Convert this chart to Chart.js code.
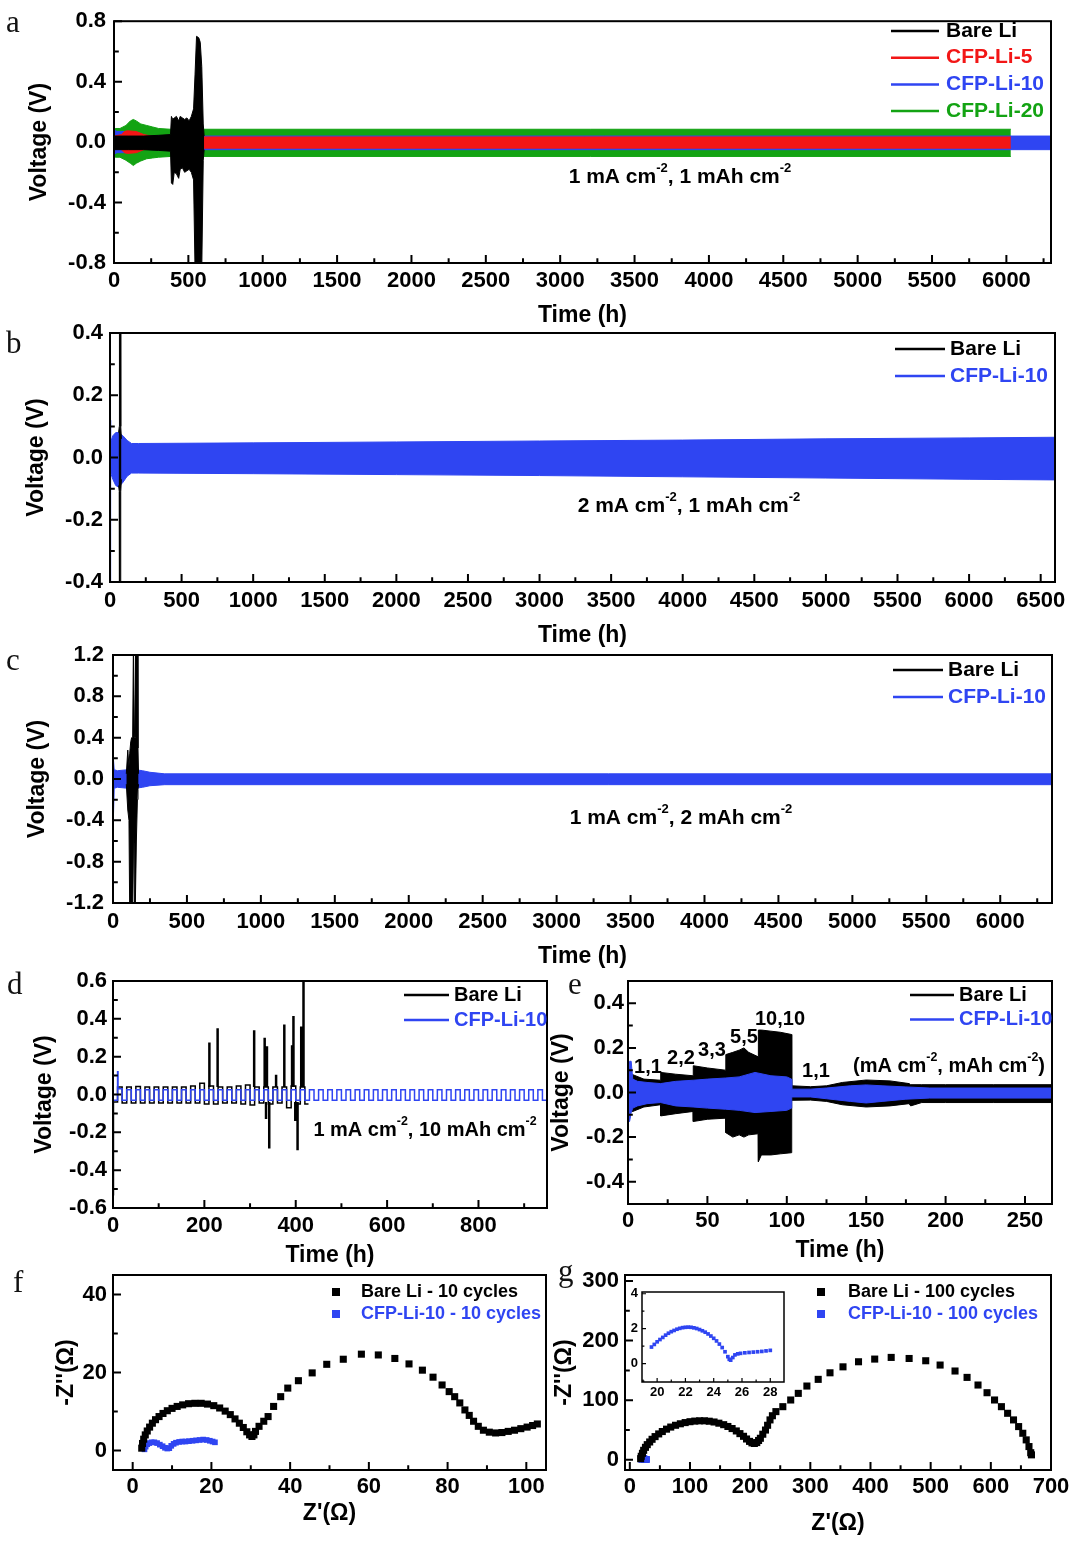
<!DOCTYPE html>
<html>
<head>
<meta charset="utf-8">
<script src="https://cdn.jsdelivr.net/npm/chart.js@4.4.1/dist/chart.umd.min.js"></script>
<style>
  body { margin: 0; background: #fff; }
  #fig { position: relative; width: 1080px; height: 1541px; background: #fff; overflow: hidden; }
  #fig canvas { position: absolute; }
  .lbl { position: absolute; font-family: "Liberation Serif", "DejaVu Serif", serif; font-size: 31px; line-height: 1; color: #111; }
</style>
</head>
<body>
<div id="fig">
  <canvas id="chartA" width="1080" height="330" style="left:0;top:0"></canvas>
  <canvas id="chartB" width="1080" height="340" style="left:0;top:310px"></canvas>
  <canvas id="chartC" width="1080" height="341" style="left:0;top:630px"></canvas>
  <canvas id="chartD" width="560" height="310" style="left:0;top:960px"></canvas>
  <canvas id="chartE" width="540" height="305" style="left:540px;top:960px"></canvas>
  <canvas id="chartF" width="560" height="273" style="left:0;top:1255px"></canvas>
  <canvas id="chartG" width="540" height="283" style="left:540px;top:1255px"></canvas>
  <canvas id="chartGi" width="185" height="125" style="left:615px;top:1280px"></canvas>
  <div class="lbl" style="left:6px;top:6px">a</div>
  <div class="lbl" style="left:6px;top:327px">b</div>
  <div class="lbl" style="left:6px;top:644px">c</div>
  <div class="lbl" style="left:7px;top:968px">d</div>
  <div class="lbl" style="left:568px;top:968px">e</div>
  <div class="lbl" style="left:13px;top:1266px">f</div>
  <div class="lbl" style="left:558px;top:1255px">g</div>
</div>
<script>
// ---- panel a : 1 mA cm-2, 1 mAh cm-2 (envelopes of the voltage bands) ----
var aBlackT  = [0, 100, 200, 300, 380, 386, 395, 405, 420, 435, 445, 460, 475, 490, 505, 520, 535, 545, 555, 570, 580, 590, 600, 606];
var aBlackHi = [0.04, 0.04, 0.04, 0.045, 0.05, 0.17, 0.15, 0.16, 0.17, 0.14, 0.17, 0.16, 0.15, 0.16, 0.14, 0.17, 0.22, 0.45, 0.70, 0.69, 0.66, 0.5, 0.12, 0.04];
var aBlackLo = [-0.05, -0.05, -0.05, -0.055, -0.06, -0.27, -0.28, -0.2, -0.21, -0.24, -0.18, -0.17, -0.2, -0.19, -0.18, -0.2, -0.25, -0.85, -0.85, -0.85, -0.85, -0.85, -0.12, -0.05];
var aRedT  = [0, 50, 70, 90, 150, 200, 250, 300, 6030];
var aRedHi = [0.04, 0.05, 0.07, 0.075, 0.07, 0.05, 0.04, 0.034, 0.034];
var aRedLo = [-0.04, -0.05, -0.07, -0.075, -0.07, -0.05, -0.045, -0.04, -0.04];
var aBlueT  = [0, 2, 4, 20, 40, 80, 110, 150, 300, 6300];
var aBlueHi = [0.22, 0.22, 0.08, 0.07, 0.07, 0.07, 0.05, 0.04, 0.04, 0.04];
var aBlueLo = [-0.70, -0.70, -0.08, -0.07, -0.07, -0.07, -0.05, -0.048, -0.05, -0.05];
var aGreenT  = [0, 10, 40, 80, 110, 130, 150, 180, 220, 260, 300, 380, 6030];
var aGreenHi = [0.10, 0.09, 0.09, 0.11, 0.14, 0.15, 0.14, 0.12, 0.11, 0.10, 0.09, 0.085, 0.085];
var aGreenLo = [-0.10, -0.10, -0.10, -0.12, -0.14, -0.155, -0.14, -0.125, -0.11, -0.105, -0.1, -0.095, -0.095];

// ---- panel b : 2 mA cm-2, 1 mAh cm-2 ----
var bBlueT  = [0, 3, 6, 20, 40, 60, 90, 120, 150, 200, 1000, 2000, 3000, 4000, 5000, 6000, 6600];
var bBlueHi = [0.12, 0.12, 0.05, 0.07, 0.08, 0.08, 0.07, 0.055, 0.045, 0.045, 0.047, 0.05, 0.053, 0.056, 0.06, 0.063, 0.065];
var bBlueLo = [-0.40, -0.40, -0.05, -0.07, -0.09, -0.095, -0.08, -0.06, -0.05, -0.05, -0.052, -0.055, -0.058, -0.062, -0.066, -0.07, -0.072];
var bBlackT  = [60, 65, 66, 74, 75, 80];
var bBlackHi = [0.08, 0.1, 0.42, 0.42, 0.1, 0.06];
var bBlackLo = [-0.09, -0.11, -0.42, -0.42, -0.11, -0.07];

// ---- panel c : 1 mA cm-2, 2 mAh cm-2 ----
var cBlueT  = [0, 4, 8, 30, 100, 150, 200, 250, 350, 6350];
var cBlueHi = [0.25, 0.25, 0.09, 0.08, 0.09, 0.09, 0.08, 0.065, 0.05, 0.05];
var cBlueLo = [-0.52, -0.52, -0.09, -0.08, -0.09, -0.09, -0.08, -0.065, -0.055, -0.055];
var cBlackT  = [90, 100, 108, 113, 120, 126, 133, 138, 141, 146, 150, 152, 158, 165, 169, 173];
var cBlackHi = [0.05, 0.28, 0.12, 0.25, 0.36, 0.40, 0.40, 1.3, 1.3, 0.40, 0.40, 1.3, 1.3, 1.3, 0.3, 0.05];
var cBlackLo = [-0.05, -0.3, -0.4, -1.3, -1.3, -1.3, -1.3, -0.4, -0.4, -1.3, -1.3, -1.3, -0.6, -0.2, -0.1, -0.05];

// ---- panel d : 1 mA cm-2, 10 mAh cm-2 (half-cycle levels, stepped) ----
var dBlueT = [0, 10, 11, 20, 30, 40, 50, 60, 70, 80, 90, 100, 110, 120, 130, 140, 150, 160, 170, 180, 190,
  200, 210, 220, 230, 240, 250, 260, 270, 280, 290, 300, 310, 320, 330, 340, 350, 360, 370, 380, 390,
  400, 410, 420, 430, 440, 450, 460, 470, 480, 490, 500, 510, 520, 530, 540, 550, 560, 570, 580, 590,
  600, 610, 620, 630, 640, 650, 660, 670, 680, 690, 700, 710, 720, 730, 740, 750, 760, 770, 780, 790,
  800, 810, 820, 830, 840, 850, 860, 870, 880, 890, 900, 910, 920, 930, 940, 950];
var dBlueV = [-0.03, 0.12, 0.03, -0.03, 0.025, -0.03, 0.025, -0.03, 0.025, -0.03, 0.025, -0.03, 0.025, -0.03, 0.025, -0.03, 0.025, -0.03, 0.025, -0.03, 0.025,
  -0.03, 0.025, -0.03, 0.025, -0.03, 0.025, -0.03, 0.025, -0.03, 0.025, -0.03, 0.025, -0.03, 0.025, -0.03, 0.025, -0.03, 0.025, -0.03, 0.025,
  -0.03, 0.025, -0.03, 0.025, -0.03, 0.025, -0.03, 0.025, -0.03, 0.025, -0.03, 0.025, -0.03, 0.025, -0.03, 0.025, -0.03, 0.025, -0.03, 0.025,
  -0.03, 0.025, -0.03, 0.025, -0.03, 0.025, -0.03, 0.025, -0.03, 0.025, -0.03, 0.025, -0.03, 0.025, -0.03, 0.025, -0.03, 0.025, -0.03, 0.025,
  -0.03, 0.025, -0.03, 0.025, -0.03, 0.025, -0.03, 0.025, -0.03, 0.025, -0.03, 0.025, -0.03, 0.025, -0.03, 0.025];
var dBlackT = [0, 1, 10, 20, 30, 40, 50, 60, 70, 80, 90, 100, 110, 120, 130, 140, 150, 160, 170, 180, 190, 200,
  210, 220, 230, 240, 250, 260, 270, 280, 290, 300, 310, 320, 330, 340, 350, 360, 370, 380, 390, 400, 410, 420, 428];
var dBlackV = [-0.53, -0.04, 0.04, -0.045, 0.04, -0.045, 0.042, -0.045, 0.04, -0.045, 0.04, -0.045, 0.04, -0.045, 0.04, -0.045, 0.04, -0.045, 0.045, -0.045, 0.06, -0.05,
  0.045, -0.05, 0.04, -0.045, 0.04, -0.045, 0.045, -0.05, 0.05, -0.055, 0.04, -0.045, 0.04, -0.05, 0.04, -0.045, 0.04, -0.07, 0.045, -0.05, 0.04, -0.05, -0.05];
var dSpikeT    = [211, 229, 309, 332, 335, 337, 342, 357, 375, 392, 395, 399, 404, 412, 417];
var dSpikeFrom = [0.04, 0.04, 0.04, 0.04, -0.04, 0.04, -0.04, 0.04, 0.04, 0.04, 0.04, -0.04, -0.04, 0.04, 0.04];
var dSpikeTo   = [0.275, 0.35, 0.34, 0.30, -0.13, 0.255, -0.285, 0.105, 0.37, 0.26, 0.415, -0.14, -0.295, 0.36, 0.65];

// ---- panel e : rate test ----
var eBlackT  = [0, 3, 10, 20.5, 20.6, 30, 41, 41.1, 50, 61.5, 61.6, 66, 70, 73, 76, 82, 82.1, 84, 90, 96, 103, 103.1, 115, 125, 135, 150, 165, 177, 178, 185, 200, 230, 267];
var eBlackHi = [0.09, 0.08, 0.06, 0.055, 0.09, 0.082, 0.075, 0.12, 0.11, 0.10, 0.17, 0.18, 0.19, 0.20, 0.18, 0.16, 0.28, 0.28, 0.275, 0.27, 0.26, 0.03, 0.026, 0.03, 0.045, 0.056, 0.052, 0.04, 0.035, 0.035, 0.035, 0.035, 0.035];
var eBlackLo = [-0.09, -0.085, -0.065, -0.055, -0.105, -0.095, -0.085, -0.13, -0.12, -0.115, -0.18, -0.2, -0.19, -0.2, -0.19, -0.185, -0.31, -0.28, -0.28, -0.275, -0.27, -0.035, -0.034, -0.04, -0.055, -0.065, -0.06, -0.05, -0.06, -0.045, -0.045, -0.045, -0.045];
var eBlueT  = [0, 1, 2, 3, 6, 12, 20.5, 30, 41, 50, 61.5, 70, 80, 90, 100, 103, 103.1, 115, 125, 140, 150, 160, 175, 190, 267];
var eBlueHi = [0.05, 0.14, 0.14, 0.06, 0.05, 0.045, 0.04, 0.05, 0.055, 0.06, 0.065, 0.07, 0.09, 0.075, 0.07, 0.06, 0.015, 0.015, 0.02, 0.03, 0.034, 0.03, 0.025, 0.02, 0.02];
var eBlueLo = [-0.13, -0.13, -0.09, -0.07, -0.06, -0.05, -0.045, -0.06, -0.065, -0.07, -0.075, -0.08, -0.09, -0.085, -0.08, -0.07, -0.02, -0.02, -0.028, -0.04, -0.047, -0.04, -0.03, -0.025, -0.025];

// ---- panel f : EIS after 10 cycles ----
var fBareX = [2.3, 2.5, 2.8, 3.2, 3.7, 4.3, 5.0, 5.8, 6.7, 7.7, 8.8, 10.0, 11.3, 12.7, 14.2, 15.8, 17.4, 19.0, 20.6, 22.1, 23.5, 24.8, 26.0, 27.1, 28.1, 29.0, 29.7, 30.3, 30.8, 31.2, 32.1, 33.3, 34.4, 35.8, 37.6, 39.4, 42.1, 45.6, 49.3, 53.5, 58.1, 62.4, 66.6, 70.2, 73.6, 76.3, 78.6, 80.4, 81.8, 83.1, 84.4, 85.5, 86.6, 87.8, 89.1, 90.6, 92.2, 93.8, 95.4, 97.0, 98.6, 100.2, 101.6, 102.8];
var fBareY = [0.6, 1.8, 2.9, 4.0, 5.0, 6.0, 7.0, 7.9, 8.7, 9.5, 10.2, 10.8, 11.3, 11.7, 12.0, 12.1, 12.1, 11.9, 11.5, 10.9, 10.1, 9.2, 8.1, 7.0, 5.9, 4.8, 4.0, 3.6, 4.0, 4.9, 6.2, 7.5, 8.7, 11.3, 13.8, 16.0, 17.9, 19.9, 22.1, 23.4, 24.7, 24.5, 23.6, 22.2, 20.6, 18.8, 16.8, 15.1, 13.8, 12.2, 10.4, 9.0, 7.5, 6.2, 5.2, 4.7, 4.5, 4.6, 4.9, 5.2, 5.6, 6.0, 6.4, 6.8];
var fCfpX = [3.0, 3.3, 3.7, 4.2, 4.8, 5.5, 6.2, 6.9, 7.6, 8.2, 8.8, 9.3, 9.8, 10.4, 11.0, 11.8, 12.6, 13.4, 14.3, 15.2, 16.1, 17.0, 17.9, 18.8, 19.6, 20.3, 20.9];
var fCfpY = [0.3, 1.0, 1.6, 1.9, 2.1, 2.1, 1.9, 1.5, 1.1, 0.7, 0.5, 0.6, 1.2, 1.7, 2.0, 2.2, 2.3, 2.3, 2.4, 2.5, 2.6, 2.7, 2.8, 2.7, 2.5, 2.3, 2.1];

// ---- panel g : EIS after 100 cycles (+ inset) ----
var gBareX = [18, 19, 21, 23, 26, 29, 33, 37, 42, 48, 54, 61, 68, 76, 84, 92, 100, 108, 116, 124, 132, 140, 148, 156, 163, 170, 177, 183, 189, 194, 199, 203, 207, 211, 214, 217, 221, 225.5, 229, 233, 237, 242.8, 254.3, 267.4, 280, 294.3, 313.1, 332.7, 354.3, 380.1, 407, 434.4, 464.2, 491.8, 515.7, 540.5, 560.5, 578.7, 593.7, 606.2, 617.6, 627.9, 637.7, 646.2, 653.1, 658.8, 663.4, 666.3, 667.5];
var gBareY = [2, 6, 11, 16, 21, 25.5, 30, 34.5, 39, 43.5, 47.5, 51.5, 55, 58, 60.5, 62.5, 64, 65, 65.5, 65.5, 64.8, 63.5, 61.5, 59, 56, 52.5, 48.5, 44, 39.5, 35, 31, 28.5, 27.5, 29, 32.5, 36.2, 43, 50, 58, 67, 74, 80.9, 89.2, 100.4, 111.5, 123.8, 135, 146, 156, 164.5, 169, 171.8, 170, 166.2, 159, 149, 138.3, 125.5, 112.6, 100.4, 89.2, 78.1, 67, 55.8, 44.6, 33.5, 22.3, 12, 8.4];
var gCfpX = [19.6, 19.8, 20.0, 20.2, 20.4, 20.6, 20.8, 21.0, 21.2, 21.4, 21.6, 21.8, 22.0, 22.2, 22.4, 22.6, 22.8, 23.0, 23.2, 23.4, 23.6, 23.8, 24.0, 24.2, 24.4, 24.6, 24.8, 25.0, 25.1, 25.2, 25.35, 25.5, 25.7, 25.9, 26.2, 26.5, 26.8, 27.1, 27.4, 27.7, 28.0];
var gCfpY = [0.95, 1.1, 1.25, 1.38, 1.5, 1.63, 1.74, 1.83, 1.9, 1.97, 2.02, 2.06, 2.08, 2.09, 2.08, 2.05, 2.01, 1.95, 1.88, 1.8, 1.7, 1.58, 1.45, 1.3, 1.12, 0.92, 0.68, 0.4, 0.25, 0.2, 0.35, 0.5, 0.56, 0.59, 0.62, 0.64, 0.66, 0.68, 0.7, 0.73, 0.76];

var FONT = '"Liberation Sans", Arial, Helvetica, sans-serif';
var BLACK = '#000000', RED = '#f21616', BLUE = '#2f45f2', GREEN = '#13a313';

Chart.defaults.font.family = FONT;
Chart.defaults.font.weight = 'bold';
Chart.defaults.font.size = 22;
Chart.defaults.color = '#000';

function pts(xs, ys) {
  return xs.map(function (x, i) { return { x: x, y: ys[i] }; });
}

// upper line filled down to the lower line
function band(label, xs, hi, lo, color) {
  return [
    { label: label, data: pts(xs, hi), borderColor: color, backgroundColor: color, borderWidth: 1, pointRadius: 0, fill: '+1' },
    { label: label + ' (low)', data: pts(xs, lo), borderColor: color, backgroundColor: color, borderWidth: 1, pointRadius: 0, fill: false }
  ];
}

// vertical strokes, broken by null points
function segs(xs, y0, y1) {
  var d = [];
  xs.forEach(function (x, i) { d.push({ x: x, y: y0[i] }, { x: x, y: y1[i] }, { x: x, y: null }); });
  return d;
}

function volt(v) { return v.toFixed(1); }
function plainNum(v) { return String(v); }

// fixed tick positions every `step` inside the axis range
function stepTicks(step) {
  return function (s) {
    var t = [];
    for (var v = Math.ceil(s.min / step - 1e-9) * step; v <= s.max + 1e-9; v += step) {
      t.push({ value: Math.round(v * 1e6) / 1e6 });
    }
    s.ticks = t;
  };
}

function drawRich(ctx, text, x, y, size) {
  var parts = text.split(/\^\{([^}]*)\}/);
  var w = 0;
  parts.forEach(function (p, i) {
    ctx.font = 'bold ' + (i % 2 ? size * 0.62 : size) + 'px ' + FONT;
    w += ctx.measureText(p).width;
  });
  var cx = x - w / 2;
  parts.forEach(function (p, i) {
    ctx.font = 'bold ' + (i % 2 ? size * 0.62 : size) + 'px ' + FONT;
    ctx.fillText(p, cx, i % 2 ? y - size * 0.4 : y);
    cx += ctx.measureText(p).width;
  });
}

function tickMarks(ctx, s, a, horiz, len) {
  var vals = s.ticks.map(function (t) { return t.value; });
  var half = (vals[1] - vals[0]) / 2;
  var marks = [[vals[0] - half, len * 0.6]];
  vals.forEach(function (v) { marks.push([v, len], [v + half, len * 0.6]); });
  ctx.beginPath();
  marks.forEach(function (m) {
    if (m[0] < s.min || m[0] > s.max) return;
    var p = s.getPixelForValue(m[0]);
    if (horiz) { ctx.moveTo(p, a.bottom); ctx.lineTo(p, a.bottom - m[1]); }
    else { ctx.moveTo(a.left, p); ctx.lineTo(a.left + m[1], p); }
  });
  ctx.stroke();
}

// frame, inward ticks, legend and notes inside the plot
var decor = {
  id: 'decor',
  beforeDatasetsDraw: function (chart, args, o) {
    if (!o.bg) return;
    var a = chart.chartArea;
    chart.ctx.save();
    chart.ctx.fillStyle = o.bg;
    chart.ctx.fillRect(a.left, a.top, a.width, a.height);
    chart.ctx.restore();
  },
  afterDraw: function (chart, args, o) {
    var ctx = chart.ctx, a = chart.chartArea;
    var ox = chart.canvas.offsetLeft, oy = chart.canvas.offsetTop;
    ctx.save();
    ctx.strokeStyle = '#000';
    ctx.lineWidth = o.frame || 2;
    ctx.strokeRect(a.left, a.top, a.width, a.height);
    ctx.lineWidth = o.tickW || 2;
    tickMarks(ctx, chart.scales.x, a, true, o.tick || 8);
    tickMarks(ctx, chart.scales.y, a, false, o.tick || 8);
    ctx.textBaseline = 'middle';
    ctx.textAlign = 'left';
    var L = o.legend;
    if (L) {
      L.items.forEach(function (it, i) {
        var y = L.y + i * L.dy - oy;
        ctx.fillStyle = it.color;
        ctx.strokeStyle = it.color;
        if (L.square) {
          ctx.fillRect(L.x0 - ox - 4, y - 4, 8, 8);
        } else {
          ctx.lineWidth = 2.5;
          ctx.beginPath();
          ctx.moveTo(L.x0 - ox, y);
          ctx.lineTo(L.x1 - ox, y);
          ctx.stroke();
        }
        ctx.font = 'bold ' + L.size + 'px ' + FONT;
        ctx.fillText(it.text, L.tx - ox, y);
      });
    }
    ctx.fillStyle = '#000';
    (o.notes || []).forEach(function (n) { drawRich(ctx, n.text, n.x - ox, n.y - oy, n.size); });
    ctx.restore();
  }
};

// g: plot box in page px, sc: axes
function makePanel(id, g, sc, datasets, deco) {
  var cv = document.getElementById(id);
  var ox = cv.offsetLeft, oy = cv.offsetTop, W = cv.width, H = cv.height;
  var fs = g.fs || 22, ts = g.ts || 23, half = ts * 0.6;
  return new Chart(cv, {
    type: sc.type || 'line',
    data: { datasets: datasets },
    options: {
      responsive: false,
      animation: false,
      events: [],
      layout: { padding: { left: 0, bottom: 0, top: g.t - oy, right: ox + W - g.r } },
      plugins: { legend: { display: false }, tooltip: { enabled: false }, decor: deco },
      scales: {
        x: {
          type: 'linear', min: sc.x[0], max: sc.x[1],
          grid: { display: false, drawTicks: false },
          border: { display: false },
          afterBuildTicks: stepTicks(sc.x[2]),
          ticks: { autoSkip: false, maxRotation: 0, padding: g.xp, font: { size: fs }, callback: plainNum },
          title: { display: !!sc.xt, text: sc.xt, font: { size: ts }, padding: { top: 0, bottom: Math.max(0, oy + H - g.xt - half) } },
          afterFit: function (s) { s.height = oy + H - g.b; }
        },
        y: {
          type: 'linear', min: sc.y[0], max: sc.y[1],
          grid: { display: false, drawTicks: false },
          border: { display: false },
          afterBuildTicks: stepTicks(sc.y[2]),
          ticks: { autoSkip: false, padding: g.yp, font: { size: fs }, callback: sc.yf || plainNum },
          title: { display: !!sc.yt, text: sc.yt, font: { size: ts }, padding: { top: Math.max(0, g.yt - ox - half), bottom: 0 } },
          afterFit: function (s) { s.width = g.l - ox; }
        }
      }
    },
    plugins: [decor]
  });
}

// a
makePanel('chartA', { l: 114, t: 14, r: 1051, b: 263, xp: 5, yp: 8, xt: 316, yt: 40 },
  { x: [0, 6300, 500], y: [-0.8, 0.8, 0.4], yf: volt, xt: 'Time (h)', yt: 'Voltage (V)' },
  [].concat(band('Bare Li', aBlackT, aBlackHi, aBlackLo, BLACK),
    band('CFP-Li-5', aRedT, aRedHi, aRedLo, RED),
    band('CFP-Li-10', aBlueT, aBlueHi, aBlueLo, BLUE),
    band('CFP-Li-20', aGreenT, aGreenHi, aGreenLo, GREEN)),
  { legend: { x0: 891, x1: 939, tx: 946, y: 31, dy: 26.7, size: 21,
      items: [{ text: 'Bare Li', color: BLACK }, { text: 'CFP-Li-5', color: RED }, { text: 'CFP-Li-10', color: BLUE }, { text: 'CFP-Li-20', color: GREEN }] },
    notes: [{ text: '1 mA cm^{-2}, 1 mAh cm^{-2}', x: 680, y: 177, size: 21 }] });

// b
makePanel('chartB', { l: 110, t: 333, r: 1055, b: 582, xp: 6, yp: 7, xt: 636, yt: 37 },
  { x: [0, 6600, 500], y: [-0.4, 0.4, 0.2], yf: volt, xt: 'Time (h)', yt: 'Voltage (V)' },
  [].concat(band('Bare Li', bBlackT, bBlackHi, bBlackLo, BLACK),
    band('CFP-Li-10', bBlueT, bBlueHi, bBlueLo, BLUE)),
  { legend: { x0: 895, x1: 945, tx: 950, y: 349, dy: 27, size: 21,
      items: [{ text: 'Bare Li', color: BLACK }, { text: 'CFP-Li-10', color: BLUE }] },
    notes: [{ text: '2 mA cm^{-2}, 1 mAh cm^{-2}', x: 689, y: 506, size: 21 }] });

// c
makePanel('chartC', { l: 113, t: 655, r: 1052, b: 903, xp: 6, yp: 9, xt: 957, yt: 38 },
  { x: [0, 6350, 500], y: [-1.2, 1.2, 0.4], yf: volt, xt: 'Time (h)', yt: 'Voltage (V)' },
  [].concat(band('Bare Li', cBlackT, cBlackHi, cBlackLo, BLACK),
    band('CFP-Li-10', cBlueT, cBlueHi, cBlueLo, BLUE)),
  { legend: { x0: 893, x1: 943, tx: 948, y: 670, dy: 27, size: 21,
      items: [{ text: 'Bare Li', color: BLACK }, { text: 'CFP-Li-10', color: BLUE }] },
    notes: [{ text: '1 mA cm^{-2}, 2 mAh cm^{-2}', x: 681, y: 818, size: 21 }] });

// d
makePanel('chartD', { l: 113, t: 981, r: 547, b: 1208, xp: 5, yp: 6, xt: 1256, yt: 45 },
  { x: [0, 950, 200], y: [-0.6, 0.6, 0.2], yf: volt, xt: 'Time (h)', yt: 'Voltage (V)' },
  [
    { label: 'Bare Li spikes', data: segs(dSpikeT, dSpikeFrom, dSpikeTo), borderColor: BLACK, borderWidth: 2.5, pointRadius: 0, fill: false },
    { label: 'CFP-Li-10', data: pts(dBlueT, dBlueV), stepped: true, borderColor: BLUE, borderWidth: 1.5, pointRadius: 0, fill: false },
    { label: 'Bare Li', data: pts(dBlackT, dBlackV), stepped: true, borderColor: BLACK, borderWidth: 1.5, pointRadius: 0, fill: false }
  ],
  { legend: { x0: 404, x1: 449, tx: 454, y: 995, dy: 25, size: 20,
      items: [{ text: 'Bare Li', color: BLACK }, { text: 'CFP-Li-10', color: BLUE }] },
    notes: [{ text: '1 mA cm^{-2}, 10 mAh cm^{-2}', x: 425, y: 1130, size: 20 }] });

// e
makePanel('chartE', { l: 628, t: 981, r: 1052, b: 1204, xp: 4, yp: 4, xt: 1251, yt: 562 },
  { x: [0, 267, 50], y: [-0.5, 0.5, 0.2], yf: volt, xt: 'Time (h)', yt: 'Voltage (V)' },
  [].concat(band('CFP-Li-10', eBlueT, eBlueHi, eBlueLo, BLUE),
    band('Bare Li', eBlackT, eBlackHi, eBlackLo, BLACK)),
  { legend: { x0: 910, x1: 954, tx: 959, y: 995, dy: 24.5, size: 20,
      items: [{ text: 'Bare Li', color: BLACK }, { text: 'CFP-Li-10', color: BLUE }] },
    notes: [
      { text: '1,1', x: 648, y: 1067, size: 20 },
      { text: '2,2', x: 681, y: 1058, size: 20 },
      { text: '3,3', x: 712, y: 1050, size: 20 },
      { text: '5,5', x: 744, y: 1037, size: 20 },
      { text: '10,10', x: 780, y: 1019, size: 20 },
      { text: '1,1', x: 816, y: 1071, size: 20 },
      { text: '(mA cm^{-2}, mAh cm^{-2})', x: 949, y: 1066, size: 20 }
    ] });

// f
makePanel('chartF', { l: 113, t: 1275, r: 546, b: 1470, xp: 4, yp: 6, xt: 1514, yt: 67 },
  { type: 'scatter', x: [-5, 105, 20], y: [-5, 45, 20], xt: "Z'(\u03A9)", yt: "-Z''(\u03A9)" },
  [
    { label: 'Bare Li - 10 cycles', data: pts(fBareX, fBareY), pointStyle: 'rect', pointRadius: 5, backgroundColor: BLACK, borderColor: BLACK, borderWidth: 0 },
    { label: 'CFP-Li-10 - 10 cycles', data: pts(fCfpX, fCfpY), pointStyle: 'rect', pointRadius: 4, backgroundColor: BLUE, borderColor: BLUE, borderWidth: 0 }
  ],
  { legend: { square: true, x0: 336, tx: 361, y: 1292, dy: 22, size: 18,
      items: [{ text: 'Bare Li - 10 cycles', color: BLACK }, { text: 'CFP-Li-10 - 10 cycles', color: BLUE }] } });

// g
makePanel('chartG', { l: 625, t: 1275, r: 1051, b: 1470, xp: 4, yp: 6, xt: 1524, yt: 565 },
  { type: 'scatter', x: [-8, 700, 100], y: [-17, 310, 100], xt: "Z'(\u03A9)", yt: "-Z''(\u03A9)" },
  [
    { label: 'Bare Li - 100 cycles', data: pts(gBareX, gBareY), pointStyle: 'rect', pointRadius: 5, backgroundColor: BLACK, borderColor: BLACK, borderWidth: 0 },
    { label: 'CFP-Li-10 - 100 cycles', data: pts(gCfpX, gCfpY), pointStyle: 'rect', pointRadius: 4.5, backgroundColor: BLUE, borderColor: BLUE, borderWidth: 0 }
  ],
  { legend: { square: true, x0: 821, tx: 848, y: 1292, dy: 22, size: 18,
      items: [{ text: 'Bare Li - 100 cycles', color: BLACK }, { text: 'CFP-Li-10 - 100 cycles', color: BLUE }] } });

// g inset
makePanel('chartGi', { l: 642, t: 1292, r: 784, b: 1382, xp: 3, yp: 4, fs: 13 },
  { type: 'scatter', x: [18.93, 28.97, 2], y: [-1.05, 4.1, 2] },
  [
    { label: 'CFP-Li-10 - 100 cycles', data: pts(gCfpX, gCfpY), pointStyle: 'rect', pointRadius: 2.6, backgroundColor: BLUE, borderColor: BLUE, borderWidth: 0 }
  ],
  { bg: '#ffffff', frame: 1.5, tickW: 1.2, tick: 4 });
</script>
</body>
</html>
